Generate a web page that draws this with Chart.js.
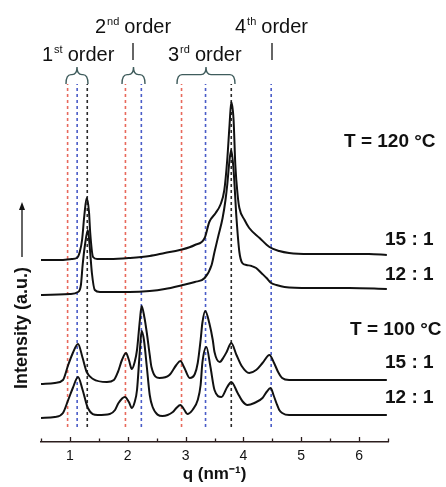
<!DOCTYPE html>
<html><head><meta charset="utf-8">
<script src="https://cdn.jsdelivr.net/npm/chart.js@4/dist/chart.umd.min.js"></script>
<style>html,body{margin:0;padding:0;background:#fff}#wrap{width:446px;height:487px;position:relative}</style>
</head><body><div id="wrap"><canvas id="c" width="446" height="487"></canvas></div>
<script>
// x tick labels
const xTicks = [1, 2, 3, 4, 5, 6];
// reference peak positions (dashed lines), q in nm^-1
const refRed = [0.96, 1.96, 2.93];
const refBlue = [1.125, 2.235, 3.345, 4.48];
const refBlack = [1.30, 3.79];
const refSpan = [15, 358];
// 15:1 at 120 °C
const qA = [0.5,0.83,1.03,1.12,1.17,1.21,1.25,1.29,1.33,1.35,1.40,1.47,1.69,2.03,2.38,2.64,2.90,3.16,3.33,3.41,3.52,3.60,3.67,3.72,3.76,3.79,3.83,3.86,3.90,3.93,4.02,4.10,4.28,4.45,4.62,4.79,5.14,5.66,6.17,6.48];
const IA = [182,182,183,184,190,202,227,244,230,210,185,183,183,184,186,189,192,197,204,220,229,237,252,282,317,340,322,277,247,234,222,214,204,195,191,189,188,188,188,187];
// 12:1 at 120 °C
const qB = [0.5,1.0,1.14,1.19,1.22,1.26,1.31,1.34,1.38,1.43,1.52,2.03,2.38,2.64,2.95,3.16,3.33,3.45,3.50,3.57,3.64,3.69,3.72,3.76,3.79,3.83,3.88,3.93,3.98,4.05,4.14,4.22,4.31,4.40,4.48,4.57,4.71,5.14,5.83,6.48];
const IB = [147,148,150,157,177,197,212,197,169,152,150,150,151,153,157,160,164,177,190,207,224,242,257,282,292,272,224,190,179,177,176,174,169,164,159,157,155,154,154,153];
// 15:1 at 100 °C
const qC = [0.5,0.74,0.88,0.97,1.05,1.14,1.22,1.29,1.40,1.64,1.76,1.83,1.90,1.97,2.02,2.07,2.12,2.16,2.21,2.24,2.29,2.33,2.38,2.41,2.55,2.72,2.84,2.91,2.98,3.07,3.16,3.21,3.26,3.29,3.34,3.41,3.47,3.50,3.59,3.66,3.71,3.79,3.88,3.97,4.10,4.22,4.33,4.45,4.53,4.60,4.67,4.79,5.31,6.00,6.48];
const IC = [58,59,62,77,89,98,84,70,63,60,62,70,82,89,82,73,80,92,122,136,124,109,87,75,64,67,77,81,74,64,68,79,102,119,131,119,102,90,80,85,90,99,87,76,69,72,79,87,79,70,64,62,62,62,62];
// 12:1 at 100 °C
const qD = [0.5,0.74,0.88,0.97,1.05,1.14,1.22,1.31,1.48,1.69,1.78,1.84,1.95,2.02,2.07,2.12,2.16,2.21,2.24,2.28,2.33,2.38,2.43,2.60,2.78,2.84,2.91,2.98,3.03,3.12,3.21,3.26,3.29,3.36,3.43,3.50,3.62,3.72,3.79,3.90,3.98,4.07,4.19,4.33,4.40,4.47,4.52,4.57,4.62,4.67,4.79,5.48,6.48];
const ID = [24,25,29,42,54,65,52,34,27,28,32,39,45,40,34,40,52,92,111,102,75,47,35,26,30,34,37,32,28,32,42,57,79,95,75,52,45,55,60,49,41,37,39,44,50,54,47,39,32,29,27,27,27];

const FONT = "'Liberation Sans', Arial, sans-serif";
const pts = (qs, is) => qs.map((q, i) => ({x: q, y: is[i]}));
const datasets = [];
[[qA, IA], [qB, IB], [qC, IC], [qD, ID]].forEach(([qs, is]) => {
  datasets.push({data: pts(qs, is), borderColor: '#111', borderWidth: 2, pointRadius: 0,
    cubicInterpolationMode: 'monotone', order: 0});
});
[[refRed, '#e8695c'], [refBlue, '#4a5cc8'], [refBlack, '#2a2a2a']].forEach(([arr, col]) => {
  arr.forEach(q => datasets.push({data: [{x: q, y: refSpan[0]}, {x: q, y: refSpan[1]}],
    borderColor: col, borderWidth: 1.6, borderDash: [3, 3], pointRadius: 0, order: 1}));
});

function supText(ctx, x, y, main, sup, rest, size) {
  ctx.font = size + 'px ' + FONT;
  ctx.fillText(main, x, y);
  x += ctx.measureText(main).width + 1;
  ctx.font = Math.round(size * 0.56) + 'px ' + FONT;
  ctx.fillText(sup, x, y - size * 0.42);
  x += ctx.measureText(sup).width + 5;
  ctx.font = size + 'px ' + FONT;
  ctx.fillText(rest, x, y);
}
function brace(ctx, xl, xr, yTop, yBot) {
  const xc = (xl + xr) / 2, ym = yTop + (yBot - yTop) * 0.45, r = 5;
  ctx.beginPath();
  ctx.moveTo(xl, yBot);
  ctx.quadraticCurveTo(xl, ym, xl + r, ym);
  ctx.lineTo(xc - r, ym);
  ctx.quadraticCurveTo(xc, ym, xc, yTop);
  ctx.quadraticCurveTo(xc, ym, xc + r, ym);
  ctx.lineTo(xr - r, ym);
  ctx.quadraticCurveTo(xr, ym, xr, yBot);
  ctx.stroke();
}

const deco = {
  id: 'deco',
  afterDraw(chart) {
    const ctx = chart.ctx, xs = chart.scales.x, ca = chart.chartArea;
    ctx.save();
    // inward ticks
    ctx.strokeStyle = '#2b1d1d'; ctx.lineWidth = 1.3;
    for (let v = 0.5; v <= 6.5001; v += 0.5) {
      const px = Math.round(xs.getPixelForValue(v)) + 0.5;
      const len = Number.isInteger(v) ? 5 : 3.5;
      ctx.beginPath(); ctx.moveTo(px, ca.bottom); ctx.lineTo(px, ca.bottom - len); ctx.stroke();
    }
    ctx.fillStyle = '#111'; ctx.textBaseline = 'alphabetic'; ctx.textAlign = 'left';
    supText(ctx, 95, 33, '2', 'nd', 'order', 20);
    supText(ctx, 235, 33, '4', 'th', 'order', 20);
    supText(ctx, 42, 61, '1', 'st', 'order', 20);
    supText(ctx, 168, 61, '3', 'rd', 'order', 20);
    ctx.strokeStyle = '#333'; ctx.lineWidth = 1.5;
    [133, 272].forEach(x => { ctx.beginPath(); ctx.moveTo(x, 43); ctx.lineTo(x, 60); ctx.stroke(); });
    ctx.strokeStyle = '#3f5c5c'; ctx.lineWidth = 1.4;
    brace(ctx, 66, 88, 67, 84);
    brace(ctx, 122, 145, 67, 84);
    brace(ctx, 177, 235, 67, 84);
    // right labels
    ctx.font = 'bold 19px ' + FONT; ctx.textBaseline = 'middle'; ctx.fillStyle = '#111';
    ctx.fillText('T = 120 °C', 344, 142);
    ctx.fillText('15 : 1', 385, 240);
    ctx.fillText('12 : 1', 385, 275);
    ctx.fillText('T = 100 °C', 350, 330);
    ctx.fillText('15 : 1', 385, 363);
    ctx.fillText('12 : 1', 385, 398);
    // y label with arrow
    ctx.save();
    ctx.translate(22, 328); ctx.rotate(-Math.PI / 2);
    ctx.textAlign = 'center'; ctx.font = 'bold 18px ' + FONT;
    ctx.fillText('Intensity (a.u.)', 0, 0);
    ctx.restore();
    ctx.strokeStyle = '#111'; ctx.lineWidth = 1.3;
    ctx.beginPath(); ctx.moveTo(22, 257); ctx.lineTo(22, 208); ctx.stroke();
    ctx.beginPath(); ctx.moveTo(22, 202); ctx.lineTo(19, 210); ctx.lineTo(25, 210); ctx.closePath(); ctx.fill();
    ctx.restore();
  }
};

new Chart(document.getElementById('c'), {
  type: 'line',
  data: {datasets},
  options: {
    responsive: false, animation: false,
    layout: {padding: {left: 41, right: 58, top: 0, bottom: 0}},
    plugins: {legend: {display: false}, tooltip: {enabled: false}},
    scales: {
      x: {
        type: 'linear', min: 0.5, max: 6.5,
        afterBuildTicks: s => { s.ticks = xTicks.map(v => ({value: v})); },
        afterFit: s => { s.height = 45; },
        grid: {display: true, drawOnChartArea: false, drawTicks: false},
        border: {display: true, color: '#2b1d1d', width: 1.5},
        ticks: {color: '#111', font: {family: FONT, size: 14}, padding: 6, maxRotation: 0},
        title: {display: true, text: 'q (nm⁻¹)', color: '#111', font: {family: FONT, size: 17, weight: 'bold'}, padding: {top: 0, bottom: 2}}
      },
      y: {type: 'linear', min: 0, max: 442, display: false}
    }
  },
  plugins: [deco]
});
</script>
</body></html>
